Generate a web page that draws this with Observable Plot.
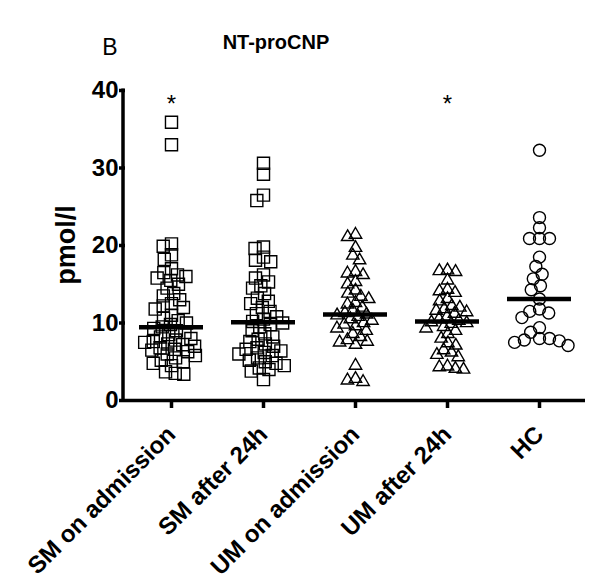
<!DOCTYPE html>
<html><head><meta charset="utf-8">
<script src="https://cdn.jsdelivr.net/npm/d3@7"></script>
<script src="https://cdn.jsdelivr.net/npm/@observablehq/plot@0.6"></script>
<style>body{margin:0;background:#fff}#chart{width:600px;height:587px}</style>
</head><body><div id="chart"></div>
<script>
const groups = ["SM on admission", "SM after 24h", "UM on admission", "UM after 24h", "HC"];
const smAdmission = [35.9, 33.0, 20.2, 19.9, 18.8, 18.2, 17.0, 16.5, 16.2, 16.0, 15.8, 15.5, 15.0, 14.5, 13.8, 13.5, 13.0, 12.5, 12.2, 12.0, 11.8, 11.0, 10.6, 10.3, 10.0, 9.8, 9.5, 9.3, 9.0, 8.8, 8.5, 8.2, 8.0, 7.8, 7.6, 7.5, 7.3, 7.2, 7.0, 6.8, 6.6, 6.5, 6.3, 6.0, 5.8, 5.5, 5.2, 5.0, 4.8, 4.5, 3.7, 3.5, 3.4];
const smAfter24h = [30.6, 29.2, 26.5, 25.8, 19.8, 19.6, 18.5, 18.1, 17.9, 16.2, 15.8, 15.3, 14.8, 14.5, 13.8, 13.2, 12.8, 12.5, 12.0, 11.5, 11.2, 10.8, 10.5, 10.2, 10.0, 9.8, 9.5, 9.0, 8.6, 8.2, 7.9, 7.6, 7.3, 7.0, 6.8, 6.6, 6.4, 6.2, 6.0, 5.8, 5.5, 5.2, 5.0, 4.8, 4.5, 4.2, 4.0, 3.8, 2.7];
const umAdmission = [21.4, 21.1, 19.7, 18.7, 18.1, 16.6, 16.4, 16.2, 15.3, 15.0, 14.2, 13.8, 13.4, 13.1, 12.6, 12.4, 12.0, 11.6, 11.3, 11.1, 11.0, 10.8, 10.5, 10.3, 10.0, 9.8, 9.6, 9.3, 9.0, 8.6, 8.2, 7.8, 7.6, 7.5, 7.2, 4.5, 2.8, 2.6, 2.4];
const umAfter24h = [16.8, 16.7, 16.6, 15.5, 14.3, 14.1, 13.9, 13.1, 12.8, 12.2, 12.0, 11.8, 11.6, 11.4, 11.2, 10.8, 10.5, 10.3, 10.1, 10.0, 9.9, 9.5, 9.3, 9.0, 8.6, 8.0, 7.4, 7.1, 6.5, 6.2, 5.9, 5.6, 4.4, 4.3, 4.1, 4.0];
const hc = [32.3, 23.6, 22.3, 20.9, 20.9, 20.9, 18.5, 17.3, 16.3, 15.7, 14.8, 14.3, 13.1, 11.8, 11.5, 11.3, 10.7, 9.4, 8.8, 8.0, 8.0, 7.8, 7.7, 7.5, 7.1];
const medians = [9.46, 10.1, 11.1, 10.2, 13.1];
const significantGroups = ["SM on admission", "UM after 24h"];
const significantY = [38.2, 38.2];
const yTicks = [0, 10, 20, 30, 40];
const yLabel = "pmol/l";
const title = "NT-proCNP";
const panel = "B";

const series = [smAdmission, smAfter24h, umAdmission, umAfter24h, hc];
const rows = series.flatMap((vals, i) => vals.map(v => ({group: groups[i], value: v})));
const squares = rows.filter(d => d.group.startsWith("SM"));
const triangles = rows.filter(d => d.group.startsWith("UM"));
const circles = rows.filter(d => d.group === "HC");
const medianRows = groups.map((g, i) => ({group: g, median: medians[i]}));
const starRows = significantGroups.map((g, i) => ({group: g, y: significantY[i]}));
const font = "'Liberation Sans', Arial, sans-serif";
const dotStyle = {fx: "group", y: "value", stroke: "black", fill: "none", strokeWidth: 1.4};

const chart = Plot.plot({
  width: 600, height: 587,
  marginTop: 90, marginBottom: 187, marginLeft: 123, marginRight: 14,
  style: {fontFamily: font, background: "#fff", color: "#000", overflow: "visible"},
  fx: {domain: groups, padding: 0},
  y: {domain: [0, 40]},
  marks: [
    Plot.axisY({ticks: yTicks, tickSize: 6, tickPadding: 1, strokeWidth: 3.5, fontSize: 24, fontWeight: "bold", label: null}),
    Plot.axisFx({anchor: "bottom", tickSize: 8, strokeWidth: 3.5, tickFormat: () => "", label: null}),
    Plot.axisFx({anchor: "bottom", tickRotate: -45, tickSize: 0, tickPadding: 30, dx: 0,
      fontSize: 24, fontWeight: "bold", label: null}),
    Plot.ruleY([0], {strokeWidth: 3.5}),
    Plot.dot(squares, Plot.dodgeX({anchor: "middle", padding: -5}, {...dotStyle, symbol: "square", r: 6.8})),
    Plot.dot(triangles, Plot.dodgeX({anchor: "middle", padding: -1}, {...dotStyle, symbol: "triangle", r: 4.6})),
    Plot.dot(circles, Plot.dodgeX({anchor: "middle", padding: -2}, {...dotStyle, symbol: "circle", r: 6})),
    Plot.ruleY(medianRows, {fx: "group", y: "median", strokeWidth: 4.5, insetLeft: 14, insetRight: 14}),
    Plot.text(starRows, {fx: "group", y: "y", text: () => "*", fontSize: 24})
  ]
});
document.getElementById("chart").appendChild(chart);

const svg = d3.select(chart.tagName.toLowerCase() === "svg" ? chart : chart.querySelector("svg"));
const y = chart.scale("y");
svg.append("line").attr("x1", 123).attr("x2", 123).attr("y1", y.apply(40) - 1.5).attr("y2", y.apply(0) + 1.75)
  .attr("stroke", "black").attr("stroke-width", 3.5);
svg.append("text").attr("transform", `translate(68,${(y.apply(0) + y.apply(40)) / 2}) rotate(-90)`)
  .attr("text-anchor", "middle").attr("dominant-baseline", "middle")
  .attr("font-size", 27).attr("font-weight", "bold").attr("font-family", font).text(yLabel);
svg.append("text").attr("x", 110).attr("y", 55).attr("font-size", 23).attr("font-family", font).text(panel);
svg.append("text").attr("x", 276).attr("y", 49).attr("text-anchor", "middle").attr("font-size", 20).attr("font-weight", "bold")
  .attr("font-family", font).text(title);
</script></body></html>
